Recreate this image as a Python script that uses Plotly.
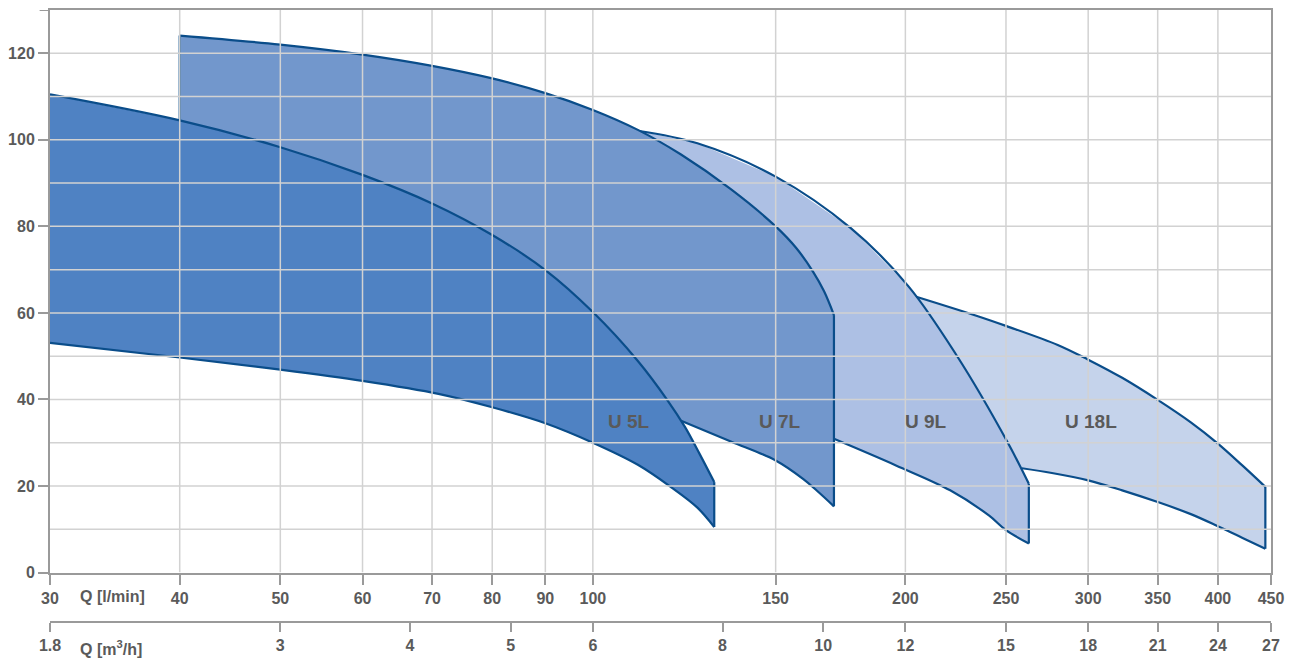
import math
import plotly.graph_objects as go

# ---------------- data ----------------
q_ticks_lmin = [30, 40, 50, 60, 70, 80, 90, 100, 150, 200, 250, 300, 350, 400, 450]
q_ticks_m3h = [1.8, 3, 4, 5, 6, 8, 10, 12, 15, 18, 21, 24, 27]
h_ticks = [0, 20, 40, 60, 80, 100, 120]
h_top = 130
h_grid = [10, 20, 30, 40, 50, 60, 70, 80, 90, 100, 110, 120]
q_grid = [40, 50, 60, 70, 80, 90, 100, 150, 200, 250, 300, 350, 400]

# U 5L
u5_top_q = [30, 40, 50, 60, 70, 80, 90, 100, 110.5, 118.1, 122.7, 126.6, 130.9]
u5_top_h = [110.5, 104.5, 98.3, 91.9, 85.3, 78.0, 69.9, 60.2, 48.9, 39.7, 33.6, 27.6, 20.9]
u5_bot_q = [30, 40, 50, 60, 71, 80, 90, 100, 110.5, 119, 126.1, 130.9]
u5_bot_h = [53.1, 49.7, 46.9, 44.3, 41.3, 38.2, 34.5, 30.0, 24.9, 19.7, 15.0, 10.5]
u5_hid_q = []
u5_hid_h = []

# U 7L
u7_top_q = [40, 50, 60, 70, 80, 90, 100, 110.5, 121.6, 135.8, 150, 157, 163, 167, 170.7]
u7_top_h = [124.1, 122.0, 119.7, 117.1, 114.2, 110.8, 106.9, 102.3, 96.6, 88.6, 80.0, 75.0, 69.5, 65.0, 59.5]
u7_bot_q = [121.6, 135.8, 150, 159.5, 164.4, 170.7]
u7_bot_h = [35.1, 30.3, 25.9, 21.6, 18.9, 15.3]
u7_hid_q = [100, 60, 40]
u7_hid_h = [45, 70, 90]
u7_left_h = [124.1, 104.5]

# U 9L
u9_top_q = [110.5, 126.1, 150, 177.2, 201.3, 224.2, 250.9, 263]
u9_top_h = [102.1, 99.2, 91.5, 79.6, 66.2, 50.1, 30.1, 20.5]
u9_bot_q = [170.7, 196.1, 220.9, 240.7, 250, 263]
u9_bot_h = [30.9, 24.7, 19.0, 13.2, 9.8, 6.7]
u9_hid_q = [160, 120]
u9_hid_h = [45, 70]

# U 18L
u18_top_q = [204.5, 234.5, 250, 280.4, 300, 323.5, 350, 376.7, 400, 422.5, 444.4]
u18_top_h = [63.8, 59.3, 57.0, 52.6, 49.2, 45.0, 39.9, 34.7, 29.8, 24.7, 19.8]
u18_bot_q = [259, 276.8, 300, 323.5, 350, 376.7, 400, 422.5, 444.4]
u18_bot_h = [24.1, 23.0, 21.3, 19.0, 16.3, 13.5, 10.7, 8.0, 5.5]
u18_hid_q = [245, 215]
u18_hid_h = [28, 45]

model_names = ["U 5L", "U 7L", "U 9L", "U 18L"]
label_q = [108.3, 151.3, 209.3, 301.9]
label_h = [34.9, 34.9, 34.9, 34.9]

fill_colors = {"U 5L": "#4f82c3", "U 7L": "#7297cc", "U 9L": "#adc0e4", "U 18L": "#c5d3eb"}
outline = "#0a4d8a"
axis_col = "#9a9a9a"
grid_col = "#d2d2d2"
text_col = "#5a5a5a"
FONT = "Liberation Sans, Arial, sans-serif"

models = {
    "U 5L": (u5_top_q, u5_top_h, u5_bot_q, u5_bot_h, u5_hid_q, u5_hid_h),
    "U 7L": (u7_top_q, u7_top_h, u7_bot_q, u7_bot_h, u7_hid_q, u7_hid_h),
    "U 9L": (u9_top_q, u9_top_h, u9_bot_q, u9_bot_h, u9_hid_q, u9_hid_h),
    "U 18L": (u18_top_q, u18_top_h, u18_bot_q, u18_bot_h, u18_hid_q, u18_hid_h),
}

fig = go.Figure()

def line_trace(x, y, shape):
    return go.Scatter(x=x, y=y, mode="lines", line=dict(color=outline, width=2.2, shape=shape),
                      hoverinfo="skip", showlegend=False)

for name in ["U 18L", "U 9L", "U 7L", "U 5L"]:
    tq, th, bq, bh, hq, hh = models[name]
    xs = tq + bq[::-1] + hq
    ys = th + bh[::-1] + hh
    fig.add_trace(go.Scatter(x=xs, y=ys, fill="toself", fillcolor=fill_colors[name],
                             mode="lines", line=dict(width=0, color=fill_colors[name]),
                             hoverinfo="skip", showlegend=False, name=name))
    fig.add_trace(line_trace(tq, th, "spline"))
    fig.add_trace(line_trace(bq, bh, "spline"))
    fig.add_trace(line_trace([tq[-1], bq[-1]], [th[-1], bh[-1]], "linear"))
    if name == "U 7L":
        fig.add_trace(line_trace([tq[0], tq[0]], u7_left_h, "linear"))

# invisible trace for the secondary (m3/h) axis
fig.add_trace(go.Scatter(x=[q_ticks_m3h[0], q_ticks_m3h[-1]], y=[0, 0], xaxis="x2", yaxis="y",
                         mode="markers", marker=dict(opacity=0, size=1), hoverinfo="skip", showlegend=False))

# model labels
for name, q, h in zip(model_names, label_q, label_h):
    fig.add_annotation(x=math.log10(q), y=h, xref="x", yref="y", text=name, showarrow=False,
                       font=dict(family=FONT, size=19, color=text_col, weight="bold"))

# grid lines drawn above the fills
shapes = []
for h in h_grid:
    shapes.append(dict(type="line", xref="paper", yref="y", x0=0, x1=1, y0=h, y1=h,
                       line=dict(color=grid_col, width=1.5), layer="above"))
for q in q_grid:
    shapes.append(dict(type="line", xref="x", yref="y", x0=q, x1=q, y0=0, y1=h_top,
                       line=dict(color=grid_col, width=1.5), layer="above"))
# small outward tick at the top of the height axis
shapes.append(dict(type="line", xref="paper", yref="y", x0=-0.0085, x1=0, y0=h_top, y1=h_top,
                   line=dict(color=axis_col, width=2), layer="above"))
fig.update_layout(shapes=shapes)

tickfont = dict(family=FONT, size=16, color=text_col, weight="bold")

fig.update_layout(
    width=1292, height=662,
    margin=dict(l=48, r=16, t=8, b=40),
    plot_bgcolor="white", paper_bgcolor="white",
    showlegend=False,
    xaxis=dict(type="log", range=[math.log10(q_ticks_lmin[0]), math.log10(q_ticks_lmin[-1])],
               tickmode="array", tickvals=q_ticks_lmin, ticktext=[str(v) for v in q_ticks_lmin],
               ticks="outside", ticklen=10, tickwidth=2, tickcolor=axis_col,
               showline=True, linecolor=axis_col, linewidth=2, mirror=True,
               showgrid=False, zeroline=False, tickfont=tickfont, anchor="y"),
    xaxis2=dict(type="log", range=[math.log10(q_ticks_m3h[0]), math.log10(q_ticks_m3h[-1])],
                overlaying="x", anchor="free", position=0, side="bottom",
                tickmode="array", tickvals=q_ticks_m3h, ticktext=[str(v) for v in q_ticks_m3h],
                ticks="outside", ticklen=9, tickwidth=2, tickcolor=axis_col,
                showline=True, linecolor=axis_col, linewidth=2,
                showgrid=False, zeroline=False, tickfont=tickfont),
    yaxis=dict(domain=[0.0808, 1], range=[0, h_top],
               tickmode="array", tickvals=h_ticks, ticktext=[str(v) for v in h_ticks],
               ticks="outside", ticklen=10, tickwidth=2, tickcolor=axis_col,
               showline=True, linecolor=axis_col, linewidth=2, mirror=True,
               showgrid=False, zeroline=False, tickfont=tickfont),
)

fig.add_annotation(x=0.0228, y=0.0423, xref="paper", yref="paper", xanchor="left", yanchor="middle",
                   text="Q [l/min]", showarrow=False, font=dict(family=FONT, size=16, color=text_col, weight="bold"))
fig.add_annotation(x=0.0228, y=-0.0423, xref="paper", yref="paper", xanchor="left", yanchor="middle",
                   text="Q [m<sup>3</sup>/h]", showarrow=False, font=dict(family=FONT, size=16, color=text_col, weight="bold"))

fig.write_html("out.html", config={"displayModeBar": False},
               post_script="document.body.style.margin='0px';document.body.style.overflow='hidden';")
